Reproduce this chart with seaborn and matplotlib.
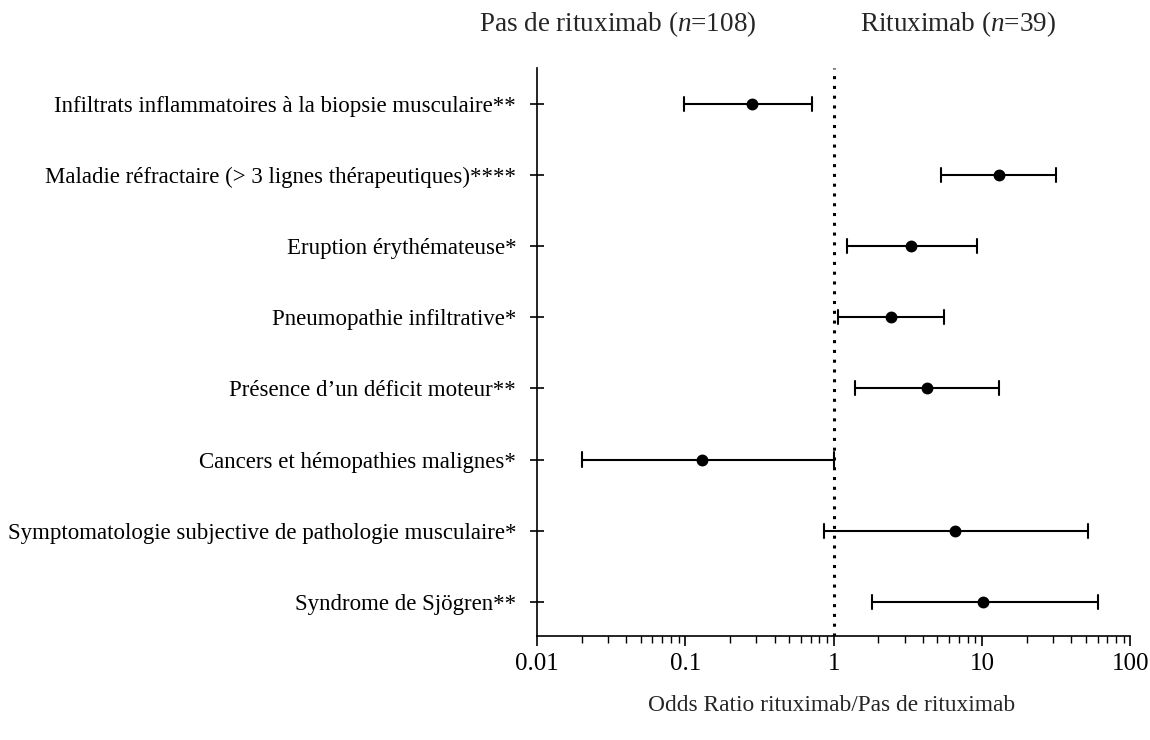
import numpy as np
import pandas as pd
import seaborn as sns
import matplotlib
matplotlib.use("Agg")
import matplotlib.pyplot as plt
from matplotlib.ticker import FixedLocator, FixedFormatter, LogLocator, NullFormatter

# Variables associated with rituximab use (odds ratio with 95% CI)
labels = [
    "Infiltrats inflammatoires à la biopsie musculaire**",
    "Maladie réfractaire (> 3 lignes thérapeutiques)****",
    "Eruption érythémateuse*",
    "Pneumopathie infiltrative*",
    "Présence d\u2019un déficit moteur**",
    "Cancers et hémopathies malignes*",
    "Symptomatologie subjective de pathologie musculaire*",
    "Syndrome de Sjögren**",
]
odds_ratio = [0.28, 12.9, 3.34, 2.42, 4.23, 0.13, 6.6, 10.2]
ci_low = [0.098, 5.3, 1.22, 1.06, 1.40, 0.020, 0.86, 1.8]
ci_high = [0.71, 31.4, 9.2, 5.5, 12.9, 1.0, 52.0, 60.0]

x_ticks = [0.01, 0.1, 1, 10, 100]
x_tick_labels = ["0.01", "0.1", "1", "10", "100"]

sns.set_theme(style="white")
plt.rcParams["font.family"] = ["Liberation Serif", "DejaVu Serif"]
plt.rcParams["mathtext.fontset"] = "custom"
plt.rcParams["mathtext.rm"] = "Liberation Serif"
plt.rcParams["mathtext.it"] = "Liberation Serif:italic"

# Long format: each row contributes its lower bound, estimate and upper bound
df = pd.DataFrame({
    "label": np.repeat(labels, 3),
    "value": np.ravel(np.column_stack([ci_low, odds_ratio, ci_high])),
})

fig = plt.figure(figsize=(11.5, 7.4), dpi=100)
ax = fig.add_axes([0.467, 0.1405, 0.516, 0.7675])

sns.pointplot(
    data=df, x="value", y="label", order=labels,
    estimator="median", errorbar=lambda v: (v.min(), v.max()),
    log_scale=True, orient="h", color="black",
    linestyle="none", markers="o", markersize=6.5,
    capsize=0.2, err_kws={"linewidth": 1.5}, ax=ax,
)

ax.axvline(1, color="black", linestyle=(0, (1, 2.2)), linewidth=2.2, zorder=0)

ax.set_xlim(0.01, 100)
ax.set_ylim(len(labels) - 0.52, -0.5)
ax.xaxis.set_major_locator(FixedLocator(x_ticks))
ax.xaxis.set_major_formatter(FixedFormatter(x_tick_labels))
ax.xaxis.set_minor_locator(LogLocator(base=10, subs=np.arange(2, 10)))
ax.xaxis.set_minor_formatter(NullFormatter())
ax.tick_params(axis="x", which="major", direction="out", length=7, width=1.2,
               labelsize=18, pad=5, bottom=True, colors="black")
ax.tick_params(axis="x", which="minor", direction="out", length=5, width=1.0,
               bottom=True, colors="black")
ax.tick_params(axis="y", direction="inout", length=10, width=1.2, left=True,
               labelsize=16.5, pad=10, colors="black")

for side in ["top", "right"]:
    ax.spines[side].set_visible(False)
for side in ["left", "bottom"]:
    ax.spines[side].set_color("black")
    ax.spines[side].set_linewidth(1.2)

ax.set_xlabel("")
ax.set_ylabel("")
ax.grid(False)

fig.text(0.537, 0.968, "Pas de rituximab ($n$=108)", ha="center", va="center", fontsize=19.5)
fig.text(0.833, 0.968, "Rituximab ($n$=39)", ha="center", va="center", fontsize=19.5)
fig.text(0.723, 0.047, "Odds Ratio rituximab/Pas de rituximab", ha="center", va="center",
         fontsize=16.8)

fig.savefig("out.png", dpi=100, facecolor="white")
